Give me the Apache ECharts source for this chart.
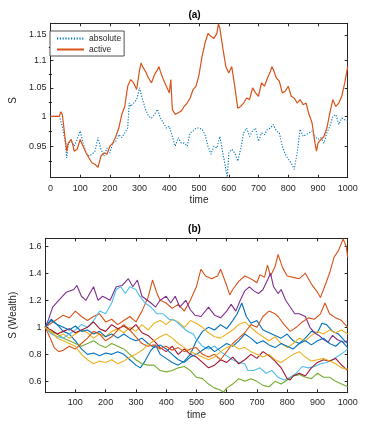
<!DOCTYPE html>
<html><head><meta charset="utf-8">
<script src="https://cdn.jsdelivr.net/npm/echarts@6/dist/echarts.min.js"></script>
<style>html,body{margin:0;padding:0;background:#fff}#c{width:374px;height:432px}</style>
</head><body><div id="c"></div>
<script>
// ---------- Panel (a) data: [time, S] ----------
const absolutePts = [[0,1],[10,1],[20,1],[30,1],[35,1],[40,0.983],[50,0.955],[55,0.931],[60,0.955],[70,0.958],[80,0.950],[90,0.961],[100,0.975],[110,0.955],[120,0.939],[130,0.934],[140,0.937],[150,0.942],[160,0.964],[170,0.945],[180,0.934],[190,0.947],[200,0.939],[210,0.955],[220,0.958],[230,0.969],[240,0.964],[250,0.972],[260,0.980],[265,1.023],[270,1.017],[280,1.023],[290,1.029],[300,1.050],[310,1.029],[320,1.012],[330,1.000],[340,0.997],[350,1.003],[360,1.012],[370,0.997],[380,0.989],[390,0.980],[400,0.983],[410,0.966],[420,0.950],[430,0.964],[440,0.955],[450,0.955],[460,0.950],[470,0.972],[480,0.975],[490,0.980],[500,0.980],[510,0.978],[520,0.969],[530,0.950],[540,0.937],[550,0.950],[560,0.947],[570,0.966],[580,0.939],[590,0.913],[595,0.901],[600,0.939],[610,0.945],[620,0.939],[630,0.926],[640,0.945],[650,0.972],[660,0.980],[670,0.966],[680,0.975],[690,0.980],[700,0.958],[710,0.972],[720,0.969],[730,0.978],[740,0.980],[750,0.986],[760,0.975],[770,0.972],[780,0.950],[790,0.937],[800,0.929],[810,0.923],[820,0.913],[830,0.939],[840,0.978],[850,0.966],[860,0.969],[870,0.972],[880,0.975],[890,0.966],[900,0.961],[910,0.964],[920,0.955],[930,0.972],[940,0.983],[950,1.000],[960,1.003],[970,0.986],[980,0.997],[990,0.994],[1000,0.992]];
const activePts = [[0,1],[10,1],[20,1],[30,1],[35,1.008],[40,1.003],[50,0.961],[55,0.942],[60,0.955],[70,0.961],[75,0.953],[80,0.942],[90,0.945],[100,0.961],[110,0.950],[120,0.939],[130,0.931],[140,0.923],[150,0.921],[160,0.916],[170,0.934],[180,0.939],[190,0.937],[200,0.950],[210,0.955],[220,0.966],[230,0.980],[240,1.003],[250,1.017],[260,1.053],[270,1.065],[280,1.059],[290,1.047],[300,1.083],[305,1.096],[310,1.089],[320,1.080],[330,1.068],[340,1.059],[350,1.074],[360,1.083],[365,1.089],[370,1.080],[380,1.065],[390,1.053],[400,1.041],[405,1.065],[410,1.012],[420,1.003],[430,1.006],[440,1.009],[450,1.017],[460,1.023],[470,1.032],[480,1.047],[490,1.053],[500,1.074],[510,1.108],[520,1.134],[530,1.153],[540,1.147],[550,1.143],[560,1.153],[565,1.172],[570,1.163],[580,1.124],[590,1.089],[600,1.077],[610,1.089],[620,1.053],[630,1.014],[640,1.017],[650,1.023],[660,1.032],[670,1.029],[680,1.050],[690,1.041],[700,1.035],[710,1.059],[720,1.053],[730,1.068],[740,1.080],[745,1.089],[750,1.083],[760,1.068],[770,1.062],[780,1.041],[790,1.044],[800,1.053],[810,1.035],[820,1.032],[830,1.023],[840,1.029],[850,1.020],[860,1.023],[870,1.003],[880,0.989],[890,0.955],[895,0.942],[900,0.955],[910,0.961],[920,0.966],[930,0.980],[940,1.006],[950,1.029],[960,1.017],[970,1.023],[980,1.035],[990,1.059],[1000,1.089]];
const aTicks = [0.95, 1, 1.05, 1.1, 1.15];
const aMinorTicks = [0.925, 0.975, 1.025, 1.075, 1.125];
const timeTicksA = [0,100,200,300,400,500,600,700,800,900,1000];

// ---------- Panel (b) data: [time, wealth] ----------
const blueA = [[0,1.0],[20,1.05],[40,1.02],[60,0.97],[80,0.95],[100,0.90],[120,0.84],[140,0.80],[160,0.81],[180,0.79],[200,0.81],[220,0.80],[240,0.82],[260,0.80],[280,0.76],[300,0.72],[315,0.70],[330,0.75],[350,0.83],[365,0.87],[380,0.80],[400,0.77],[420,0.74],[440,0.72],[460,0.75],[480,0.80],[500,0.90],[520,0.97],[540,1.00],[560,0.98],[580,1.02],[600,0.99],[620,1.05],[635,1.10],[650,1.18],[665,1.08],[680,1.03],[700,1.05],[720,0.98],[740,0.96],[760,0.94],[780,0.92],[800,0.95],[820,0.90],[840,0.88],[860,0.92],[880,0.97],[900,0.96],[915,1.03],[930,1.02],[950,0.97],[970,0.95],[990,0.90],[1000,0.88]];
const orangeA = [[0,1.00],[20,1.03],[40,1.06],[60,1.09],[80,1.07],[100,1.12],[120,1.08],[140,1.05],[160,1.08],[180,1.10],[200,1.04],[220,1.06],[240,1.02],[260,1.05],[280,1.08],[300,1.04],[320,1.12],[340,1.22],[355,1.35],[370,1.25],[380,1.20],[400,1.18],[420,1.14],[440,1.17],[460,1.12],[480,1.20],[500,1.30],[515,1.43],[530,1.38],[550,1.36],[570,1.38],[580,1.43],[600,1.31],[610,1.24],[620,1.28],[640,1.34],[660,1.38],[680,1.36],[700,1.33],[710,1.39],[725,1.37],[735,1.46],[745,1.38],[760,1.45],[770,1.54],[785,1.44],[800,1.38],[820,1.37],[840,1.36],[860,1.40],[880,1.32],[900,1.26],[910,1.22],[925,1.31],[940,1.40],[955,1.52],[970,1.57],[985,1.655],[995,1.60],[1000,1.52]];
const yellowA = [[0,1.0],[20,0.96],[40,0.93],[60,0.95],[80,0.92],[100,0.95],[120,0.98],[140,0.96],[160,0.92],[180,0.95],[200,0.93],[220,0.97],[240,0.99],[260,0.96],[280,1.0],[300,0.97],[320,1.02],[340,0.98],[360,1.03],[380,1.05],[400,1.02],[420,1.06],[440,1.04],[460,1.00],[480,1.05],[500,1.03],[520,1.0],[540,0.96],[560,0.93],[580,0.92],[600,0.95],[620,0.98],[640,1.02],[660,1.04],[680,1.0],[700,0.96],[720,0.93],[740,0.90],[760,0.93],[780,0.88],[800,0.85],[820,0.88],[840,0.92],[860,0.90],[880,0.94],[900,0.97],[920,0.95],[940,0.98],[960,0.96],[980,0.98],[1000,0.95]];
const purple = [[0,1.0],[10,1.05],[25,1.15],[45,1.2],[70,1.26],[95,1.28],[105,1.31],[120,1.23],[135,1.2],[160,1.30],[175,1.2],[190,1.23],[215,1.2],[235,1.3],[255,1.31],[275,1.36],[290,1.3],[305,1.35],[320,1.23],[350,1.18],[365,1.15],[380,1.2],[400,1.23],[415,1.18],[430,1.23],[445,1.15],[465,1.2],[480,1.13],[495,1.09],[515,1.08],[540,1.15],[560,1.09],[580,1.07],[600,1.12],[615,1.17],[630,1.12],[645,1.2],[660,1.27],[675,1.30],[690,1.27],[705,1.25],[720,1.28],[735,1.35],[745,1.40],[755,1.30],[770,1.25],[780,1.28],[795,1.2],[810,1.15],[825,1.1],[840,1.1],[860,1.08],[875,1.0],[890,0.96],[905,0.94],[920,0.91],[935,0.89],[950,0.94],[965,0.91],[985,0.89],[1000,0.9]];
const green = [[0,1.0],[20,0.97],[40,0.95],[60,0.92],[80,0.90],[100,0.88],[120,0.86],[140,0.88],[160,0.90],[180,0.87],[200,0.85],[220,0.88],[240,0.86],[260,0.84],[280,0.80],[300,0.76],[320,0.73],[340,0.72],[360,0.72],[380,0.68],[400,0.67],[420,0.68],[440,0.70],[460,0.71],[480,0.68],[500,0.63],[520,0.62],[540,0.58],[560,0.55],[575,0.54],[590,0.52],[600,0.55],[620,0.58],[640,0.62],[660,0.60],[680,0.62],[700,0.60],[720,0.57],[740,0.56],[760,0.60],[780,0.58],[800,0.61],[820,0.64],[840,0.65],[860,0.63],[880,0.62],[900,0.66],[920,0.63],[940,0.63],[960,0.60],[980,0.58],[1000,0.56]];
const lightBlue = [[0,1.0],[20,0.95],[40,0.93],[60,0.92],[80,0.95],[100,0.98],[120,1.02],[140,1.00],[160,1.05],[180,1.12],[200,1.10],[220,1.18],[235,1.28],[250,1.30],[265,1.25],[280,1.30],[300,1.28],[310,1.24],[330,1.18],[350,1.15],[370,1.10],[390,1.10],[410,1.06],[430,1.05],[450,1.01],[470,0.97],[490,0.95],[500,0.91],[520,0.86],[540,0.84],[560,0.86],[580,0.82],[600,0.79],[620,0.76],[640,0.74],[660,0.73],[670,0.68],[690,0.68],[710,0.70],[730,0.66],[750,0.68],[770,0.63],[790,0.61],[810,0.63],[830,0.66],[850,0.71],[870,0.70],[890,0.71],[910,0.73],[930,0.74],[950,0.76],[970,0.79],[990,0.82],[1000,0.84]];
const darkRed = [[0,1.0],[20,0.98],[40,0.95],[60,0.97],[80,0.99],[100,0.96],[120,0.98],[140,1.0],[160,1.04],[180,0.99],[200,0.97],[220,1.02],[240,0.99],[260,1.01],[280,0.98],[300,1.02],[320,0.96],[340,0.94],[360,0.90],[380,0.85],[400,0.82],[420,0.86],[440,0.80],[460,0.84],[480,0.80],[500,0.78],[520,0.74],[540,0.70],[560,0.72],[580,0.76],[600,0.74],[620,0.78],[640,0.73],[660,0.76],[680,0.80],[700,0.77],[720,0.82],[740,0.79],[760,0.75],[780,0.70],[800,0.62],[810,0.61],[820,0.64],[840,0.66],[860,0.64],[880,0.70],[900,0.74],[920,0.76],[940,0.75],[960,0.77],[980,0.72],[1000,0.68]];
const blueB = [[0,1.0],[20,1.06],[40,1.02],[60,1.0],[80,0.98],[100,1.01],[120,0.97],[140,0.98],[160,0.95],[180,0.97],[200,0.93],[220,0.95],[240,0.92],[260,0.95],[280,0.92],[300,0.90],[320,0.92],[340,0.88],[360,0.85],[380,0.87],[400,0.84],[420,0.80],[440,0.76],[460,0.74],[480,0.78],[500,0.80],[520,0.83],[540,0.86],[560,0.82],[580,0.85],[600,0.88],[620,0.86],[640,0.90],[660,0.95],[680,0.92],[700,0.88],[720,0.90],[740,0.87],[760,0.85],[780,0.88],[800,0.86],[820,0.84],[840,0.88],[860,0.90],[880,0.87],[900,0.90],[920,0.92],[940,0.88],[960,0.86],[980,0.90],[1000,0.85]];
const orangeB = [[0,1.0],[15,0.93],[30,0.85],[45,0.82],[60,0.83],[80,0.86],[100,0.84],[120,0.88],[140,0.92],[160,0.97],[180,0.95],[200,0.90],[220,0.93],[240,0.98],[260,1.02],[280,0.98],[300,0.93],[320,0.88],[340,0.86],[360,0.87],[380,0.84],[400,0.86],[420,0.83],[440,0.85],[460,0.82],[480,0.84],[500,0.85],[520,0.80],[540,0.78],[560,0.80],[580,0.76],[600,0.82],[620,0.88],[640,0.92],[660,0.96],[680,1.02],[700,1.00],[720,1.08],[740,1.12],[760,1.10],[770,1.08],[790,1.02],[810,0.97],[830,1.0],[850,1.04],[870,1.07],[890,1.06],[910,1.10],[925,1.18],[940,1.10],[960,1.07],[980,1.05],[1000,1.0]];
const yellowB = [[0,1.0],[20,0.97],[40,0.92],[60,0.90],[80,0.88],[100,0.86],[120,0.80],[140,0.76],[160,0.73],[180,0.75],[200,0.74],[220,0.76],[240,0.73],[260,0.75],[280,0.78],[300,0.80],[320,0.83],[340,0.87],[360,0.90],[380,0.93],[400,0.95],[420,0.92],[440,0.88],[460,0.85],[480,0.82],[500,0.80],[520,0.78],[540,0.76],[560,0.78],[580,0.82],[600,0.85],[620,0.87],[640,0.84],[660,0.85],[680,0.82],[700,0.80],[720,0.78],[740,0.80],[760,0.76],[780,0.74],[800,0.77],[820,0.80],[840,0.82],[860,0.78],[880,0.75],[900,0.76],[920,0.77],[940,0.75],[960,0.73],[980,0.70],[1000,0.69]];
const wealthSeries = [blueA, orangeA, yellowA, purple, green, lightBlue, darkRed, blueB, orangeB, yellowB];
const wealthColors = ['#0072BD','#D95319','#EDB120','#7E2F8E','#77AC30','#4DBEEE','#A2142F','#0072BD','#D95319','#EDB120'];
const bTicks = [0.6, 0.8, 1, 1.2, 1.4, 1.6];
const timeTicksB = [100,200,300,400,500,600,700,800,900,1000];

// ---------- chart ----------
const FONT = '"Liberation Sans", Arial, Helvetica, sans-serif';
const AX = '#262626';
const fmt = v => String(+(+v).toFixed(2));
const fmtInt = v => String(Math.round(+v));

function baseAxis(o) {
  return Object.assign({
    splitLine: {show: false},
    axisLine: {show: true, onZero: false, lineStyle: {color: AX, width: 1}},
    axisTick: {show: true, inside: true, length: 3, lineStyle: {color: AX, width: 1}},
    axisLabel: {show: false},
    nameTextStyle: {color: AX, fontSize: 10, fontFamily: FONT}
  }, o);
}

const chart = echarts.init(document.getElementById('c'), null, {renderer: 'canvas'});
const option = {
  animation: false,
  backgroundColor: '#fff',
  textStyle: {fontFamily: FONT},
  title: [
    {text: '(a)', left: 194.5, top: 10, textAlign: 'center', padding: 0,
     textStyle: {fontSize: 10, fontWeight: 'bold', color: '#000', fontFamily: FONT}},
    {text: '(b)', left: 194.5, top: 224.5, textAlign: 'center', padding: 0,
     textStyle: {fontSize: 10, fontWeight: 'bold', color: '#000', fontFamily: FONT}}
  ],
  legend: {
    data: ['absolute', 'active'],
    orient: 'vertical', left: 50, top: 31,
    itemWidth: 27, itemHeight: 9, itemGap: 2,
    padding: [3, 3, 2, 6],
    backgroundColor: '#fff', borderColor: AX, borderWidth: 0.8,
    itemStyle: {color: 'rgba(0,0,0,0)', borderColor: 'rgba(0,0,0,0)', borderWidth: 0, opacity: 0},
    textStyle: {fontSize: 8.5, color: AX, fontFamily: FONT}
  },
  grid: [
    {left: 41.3, top: 23.3, width: 306.4, height: 154.4},
    {left: 41.3, top: 238.3, width: 306.4, height: 154}
  ],
  xAxis: [
    baseAxis({gridIndex: 0, type: 'value', min: 0, max: 1000, position: 'bottom',
      axisTick: {show: true, inside: true, length: 3, customValues: timeTicksA, lineStyle: {color: AX}},
      axisLabel: {show: true, customValues: timeTicksA, formatter: fmtInt, color: AX, fontSize: 9, margin: 6, fontFamily: FONT},
      name: 'time', nameLocation: 'middle', nameGap: 18}),
    baseAxis({gridIndex: 0, type: 'value', min: 0, max: 1000, position: 'top',
      axisTick: {show: true, inside: true, length: 3, customValues: timeTicksA, lineStyle: {color: AX}}}),
    baseAxis({gridIndex: 1, type: 'value', min: 1, max: 1000, position: 'bottom',
      axisTick: {show: true, inside: true, length: 3, customValues: timeTicksB, lineStyle: {color: AX}},
      axisLabel: {show: true, customValues: timeTicksB, formatter: fmtInt, color: AX, fontSize: 9, margin: 6, fontFamily: FONT},
      name: 'time', nameLocation: 'middle', nameGap: 17.5}),
    baseAxis({gridIndex: 1, type: 'value', min: 1, max: 1000, position: 'top',
      axisTick: {show: true, inside: true, length: 3, customValues: timeTicksB, lineStyle: {color: AX}}})
  ],
  yAxis: [
    baseAxis({gridIndex: 0, type: 'log', min: 0.9, max: 1.173, position: 'left',
      axisTick: {show: true, inside: true, length: 3, customValues: aTicks, lineStyle: {color: AX}},
      axisLabel: {show: true, customValues: aTicks, formatter: fmt, color: AX, fontSize: 9, margin: 4, fontFamily: FONT},
      name: 'S', nameLocation: 'middle', nameGap: 25, nameRotate: 90}),
    baseAxis({gridIndex: 0, type: 'log', min: 0.9, max: 1.173, position: 'right',
      axisTick: {show: true, inside: true, length: 3, customValues: aTicks, lineStyle: {color: AX}}}),
    baseAxis({gridIndex: 0, type: 'log', min: 0.9, max: 1.173, position: 'left',
      axisLine: {show: false},
      axisTick: {show: true, inside: true, length: 1.6, customValues: aMinorTicks, lineStyle: {color: AX}}}),
    baseAxis({gridIndex: 0, type: 'log', min: 0.9, max: 1.173, position: 'right',
      axisLine: {show: false},
      axisTick: {show: true, inside: true, length: 1.6, customValues: aMinorTicks, lineStyle: {color: AX}}}),
    baseAxis({gridIndex: 1, type: 'value', min: 0.519, max: 1.659, position: 'left',
      axisTick: {show: true, inside: true, length: 3, customValues: bTicks, lineStyle: {color: AX}},
      axisLabel: {show: true, customValues: bTicks, formatter: fmt, color: AX, fontSize: 9, margin: 4, fontFamily: FONT},
      name: 'S (Wealth)', nameLocation: 'middle', nameGap: 21, nameRotate: 90}),
    baseAxis({gridIndex: 1, type: 'value', min: 0.519, max: 1.659, position: 'right',
      axisTick: {show: true, inside: true, length: 3, customValues: bTicks, lineStyle: {color: AX}}})
  ],
  series: [
    {name: 'absolute', type: 'line', xAxisIndex: 0, yAxisIndex: 0, data: absolutePts,
     symbol: 'none', showSymbol: false, color: '#0072BD',
     lineStyle: {width: 1.1, type: [1.2, 1.6], color: '#0072BD'}},
    {name: 'active', type: 'line', xAxisIndex: 0, yAxisIndex: 0, data: activePts,
     symbol: 'none', showSymbol: false, color: '#D95319',
     lineStyle: {width: 1.2, color: '#D95319'}}
  ].concat(wealthSeries.map((d, i) => ({
    type: 'line', xAxisIndex: 2, yAxisIndex: 4, data: d,
    symbol: 'none', showSymbol: false, color: wealthColors[i],
    lineStyle: {width: 1.1, color: wealthColors[i]}
  })))
};
chart.setOption(option);
</script></body></html>
